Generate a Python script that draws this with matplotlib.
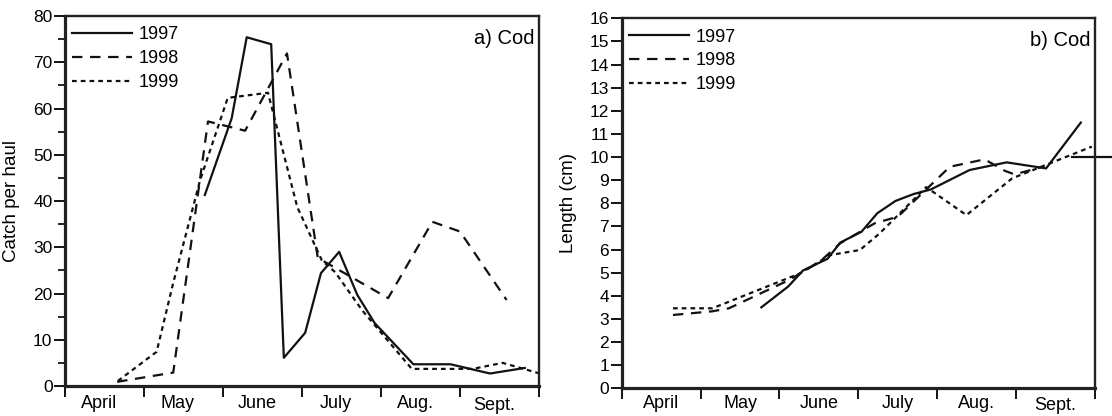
import matplotlib
matplotlib.use("Agg")
import matplotlib.pyplot as plt
from matplotlib import transforms

plt.rcParams['font.family'] = ['Liberation Sans', 'DejaVu Sans']
plt.rcParams['lines.scale_dashes'] = False

months = ["April", "May", "June", "July", "Aug.", "Sept."]
years = ["1997", "1998", "1999"]

# x in months since 1 April
catch_x_1997 = [1.77, 2.11, 2.30, 2.61, 2.77, 3.04, 3.24, 3.47, 3.70, 3.92, 4.41, 4.88, 5.38, 5.82]
catch_y_1997 = [41.3, 57.9, 75.4, 73.9, 6.1, 11.5, 24.4, 29.0, 19.7, 13.6, 4.7, 4.7, 2.7, 3.9]
catch_x_1998 = [0.66, 1.37, 1.81, 2.28, 2.81, 3.20, 4.09, 4.65, 5.00, 5.59]
catch_y_1998 = [0.9, 2.9, 57.2, 55.2, 71.9, 27.7, 19.0, 35.5, 33.4, 18.6]
catch_x_1999 = [0.67, 1.16, 1.37, 1.71, 2.06, 2.57, 2.94, 3.25, 3.42, 3.76, 4.39, 5.16, 5.54, 5.99]
catch_y_1999 = [1.1, 7.4, 22.3, 44.5, 62.3, 63.4, 38.7, 27.2, 24.6, 16.4, 3.7, 3.7, 5.0, 2.8]

len_x_1997 = [1.77, 2.11, 2.30, 2.61, 2.77, 3.04, 3.24, 3.47, 3.70, 3.92, 4.41, 4.88, 5.38, 5.82]
len_y_1997 = [3.5, 4.4, 5.1, 5.6, 6.3, 6.77, 7.57, 8.1, 8.4, 8.6, 9.44, 9.77, 9.51, 11.49]
len_x_1998 = [0.65, 1.15, 1.36, 2.12, 2.51, 2.77, 3.21, 3.50, 4.16, 4.60, 4.86, 4.98, 5.33]
len_y_1998 = [3.17, 3.33, 3.46, 4.68, 5.47, 6.27, 7.14, 7.42, 9.58, 9.9, 9.4, 9.25, 9.57]
len_x_1999 = [0.65, 1.15, 2.26, 2.64, 3.02, 3.27, 3.86, 4.37, 4.95, 5.96]
len_y_1999 = [3.46, 3.46, 4.97, 5.76, 5.98, 6.7, 8.7, 7.49, 9.08, 10.45]

ref_x = [5.71, 6.3]
ref_y = [10.0, 10.0]

W, H = 1112, 416
fig = plt.figure(figsize=(W / 100, H / 100), dpi=100)

ax1 = fig.add_axes([65 / W, (H - 386) / H, 474 / W, 370 / H])
ax2 = fig.add_axes([621.7 / W, (H - 388.3) / H, 473.3 / W, 370 / H])

styles = {
    "1997": dict(linestyle='-', lw=1.6, color='#111111'),
    "1998": dict(linestyle=(0, (7.5, 5.5)), lw=1.6, color='#111111'),
    "1999": dict(linestyle=(0, (3.4, 2.9)), lw=1.6, color='#111111'),
}

ax1.plot(catch_x_1997, catch_y_1997, label="1997", **styles["1997"])
ax1.plot(catch_x_1998, catch_y_1998, label="1998", **styles["1998"])
ax1.plot(catch_x_1999, catch_y_1999, label="1999", **styles["1999"])

ax2.plot(len_x_1997, len_y_1997, label="1997", **styles["1997"])
ax2.plot(len_x_1998, len_y_1998, label="1998", **styles["1998"])
ax2.plot(len_x_1999, len_y_1999, label="1999", **styles["1999"])
ax2.plot(ref_x, ref_y, color='#111111', lw=1.6, clip_on=False)

for ax, ylim, major, minor, ylabel, panel, lab_off in [
    (ax1, 80, 10, 5, "Catch per haul", "a) Cod", -0.07),
    (ax2, 16, 1, None, "Length (cm)", "b) Cod", 0.0),
]:
    ax.set_xlim(0, 6)
    ax.set_ylim(0, ylim)
    ax.set_xticks(range(7))
    ax.set_xticklabels([])
    ax.set_yticks(range(0, ylim + 1, major))
    if minor:
        ax.set_yticks(range(0, ylim + 1, minor), minor=True)
        ax.tick_params(axis='y', which='minor', length=5, width=1.2)
    ax.tick_params(axis='y', which='major', length=8, width=1.3, labelsize=12.5, pad=1)
    ax.tick_params(axis='x', which='major', length=8, width=1.3)
    for s in ['left', 'bottom']:
        ax.spines[s].set_linewidth(2.3)
    for s in ['top', 'right']:
        ax.spines[s].set_linewidth(1.7)
    for sp in ax.spines.values():
        sp.set_color('#222222')
    tr = transforms.blended_transform_factory(ax.transData, fig.transFigure)
    for i, m in enumerate(months):
        base = 410.5 if m == "Sept." else 408.5
        ax.text(i + 0.5 + lab_off, (H - base) / H, m, transform=tr, ha='center',
                va='baseline', fontsize=13)
    ax.set_ylabel(ylabel, fontsize=13.5)
    ax.yaxis.set_label_coords(-0.095, 0.5)
    ax.text(0.99, 0.94, panel, transform=ax.transAxes, ha='right', va='center', fontsize=14.5)
    ax.legend(loc='upper left', bbox_to_anchor=(0, 1 - 3 / 370), frameon=False, fontsize=13,
              handlelength=3.3, handletextpad=0.4, labelspacing=0.38, borderaxespad=0.0,
              borderpad=0.4)

fig.savefig("out.png", dpi=100)
